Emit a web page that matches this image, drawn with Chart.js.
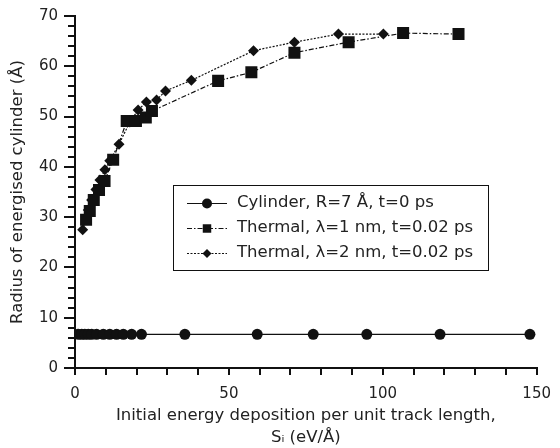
<!DOCTYPE html>
<html>
<head>
<meta charset="utf-8">
<title>Energised cylinder radius</title>
<script src="https://cdn.jsdelivr.net/npm/chart.js@4.4.1/dist/chart.umd.min.js"></script>
<style>
  html, body { margin: 0; padding: 0; background: #fff; }
  #wrap { width: 560px; height: 448px; }
</style>
</head>
<body>
<div id="wrap"><canvas id="chart" width="560" height="448"></canvas></div>
<script>
// Initial energy deposition S_i (eV/Å) vs radius (Å)
const cylinderX = [1.1, 2.2, 3.2, 4.3, 5.4, 7.0, 9.2, 11.3, 13.5, 15.7, 18.4, 21.6, 35.7, 59.2, 77.4, 94.8, 118.6, 147.8];
const cylinderY = [6.7, 6.7, 6.7, 6.7, 6.7, 6.7, 6.7, 6.7, 6.7, 6.7, 6.7, 6.7, 6.7, 6.7, 6.7, 6.7, 6.7, 6.7];

const thermal1X = [3.6, 4.8, 6.1, 7.8, 9.6, 12.4, 16.8, 19.8, 23.0, 25.0, 46.5, 57.3, 71.3, 88.9, 106.6, 124.6];
const thermal1Y = [29.5, 31.2, 33.4, 35.4, 37.2, 41.4, 49.1, 49.1, 49.8, 51.1, 57.1, 58.8, 62.7, 64.8, 66.6, 66.4];

const thermal2X = [2.5, 4.3, 5.4, 6.8, 8.1, 9.7, 11.3, 14.3, 17.8, 20.5, 23.2, 26.5, 29.4, 37.8, 58.0, 71.3, 85.6, 100.2];
const thermal2Y = [27.5, 31.4, 33.4, 35.5, 37.4, 39.4, 41.2, 44.5, 48.9, 51.3, 52.9, 53.3, 55.1, 57.2, 63.1, 64.8, 66.4, 66.4];

const seriesLabels = [
  "Cylinder, R=7 Å, t=0 ps",
  "Thermal, λ=1 nm, t=0.02 ps",
  "Thermal, λ=2 nm, t=0.02 ps"
];

const xTickLabels = [0, 50, 100, 150];
const yTickLabels = [0, 10, 20, 30, 40, 50, 60, 70];

const INK = "#111";
const FONT = "'DejaVu Sans', sans-serif";

function toPoints(xs, ys) {
  return xs.map((x, i) => ({ x: x, y: ys[i] }));
}

// legend marker sizes are a little smaller than the plotted ones
const legendStyles = [
  { dash: [], pointStyle: "circle", radius: 5 },
  { dash: [5, 2, 1.5, 2], pointStyle: "rect", radius: 6 },
  { dash: [2, 1.5], pointStyle: "rectRot", radius: 4.5 }
];

const boxLegend = {
  id: "boxLegend",
  afterDraw(chart) {
    const ctx = chart.ctx;
    const box = { x: 173.5, y: 185.5, w: 315, h: 85 };
    ctx.save();
    ctx.strokeStyle = INK;
    ctx.lineWidth = 1;
    ctx.fillStyle = "#fff";
    ctx.fillRect(box.x, box.y, box.w, box.h);
    ctx.strokeRect(box.x, box.y, box.w, box.h);

    seriesLabels.forEach((label, i) => {
      const y = 203 + i * 25;
      const st = legendStyles[i];
      ctx.setLineDash(st.dash);
      ctx.lineWidth = 1.2;
      ctx.strokeStyle = INK;
      ctx.beginPath();
      ctx.moveTo(187, y + 0.5);
      ctx.lineTo(227, y + 0.5);
      ctx.stroke();
      ctx.setLineDash([]);
      ctx.fillStyle = INK;
      Chart.helpers.drawPoint(ctx, { pointStyle: st.pointStyle, radius: st.radius, rotation: 0, borderWidth: 0 }, 207, y + 0.5);

      ctx.fillStyle = "#222";
      ctx.font = "16.5px " + FONT;
      ctx.textAlign = "left";
      ctx.textBaseline = "middle";
      ctx.fillText(label, 237, y);
    });
    ctx.restore();
  }
};

// tick marks: y every 2 (longer at labelled values), x every 10
const axisTicks = {
  id: "axisTicks",
  afterDraw(chart) {
    const { ctx, chartArea } = chart;
    const xs = chart.scales.x;
    const ys = chart.scales.y;
    ctx.save();
    ctx.strokeStyle = INK;
    ctx.lineWidth = 2;
    ctx.beginPath();
    for (let v = 0; v <= 70; v += 2) {
      const py = Math.round(ys.getPixelForValue(v));
      const len = v % 10 === 0 ? 11 : 7;
      ctx.moveTo(chartArea.left - len, py);
      ctx.lineTo(chartArea.left + 1, py);
    }
    for (let v = 0; v <= 150; v += 10) {
      const px = Math.round(xs.getPixelForValue(v));
      ctx.moveTo(px, chartArea.bottom - 1);
      ctx.lineTo(px, chartArea.bottom + 7);
    }
    ctx.stroke();
    ctx.restore();
  }
};

new Chart(document.getElementById("chart"), {
  type: "scatter",
  data: {
    datasets: [
      {
        label: seriesLabels[0],
        data: toPoints(cylinderX, cylinderY),
        showLine: true,
        borderColor: INK,
        borderWidth: 1.2,
        backgroundColor: INK,
        pointStyle: "circle",
        pointRadius: 5.5,
        pointBorderWidth: 0
      },
      {
        label: seriesLabels[1],
        data: toPoints(thermal1X, thermal1Y),
        showLine: true,
        borderColor: INK,
        borderWidth: 1.2,
        borderDash: [5, 2, 1.5, 2],
        backgroundColor: INK,
        pointStyle: "rect",
        pointRadius: 8.5,
        pointBorderWidth: 0
      },
      {
        label: seriesLabels[2],
        data: toPoints(thermal2X, thermal2Y),
        showLine: true,
        borderColor: INK,
        borderWidth: 1.2,
        borderDash: [2, 1.5],
        backgroundColor: INK,
        pointStyle: "rectRot",
        pointRadius: 5.5,
        pointBorderWidth: 0
      }
    ]
  },
  options: {
    responsive: false,
    animation: false,
    layout: { padding: { top: 16, right: 22, left: 0, bottom: 0 } },
    plugins: {
      legend: { display: false },
      tooltip: { enabled: false }
    },
    scales: {
      x: {
        type: "linear",
        min: 0,
        max: 150,
        afterBuildTicks(scale) {
          scale.ticks = xTickLabels.map(v => ({ value: v }));
        },
        afterFit(scale) { scale.height = 80; },
        grid: { display: true, drawOnChartArea: false, drawTicks: true, tickLength: 8, color: "rgba(0,0,0,0)" },
        border: { display: true, color: INK, width: 2 },
        ticks: { color: "#222", padding: 9, maxRotation: 0, font: { family: FONT, size: 15 } },
        title: {
          display: true,
          text: ["Initial energy deposition per unit track length,", "Sᵢ (eV/Å)"],
          color: "#222",
          font: { family: FONT, size: 16.5, lineHeight: "22.5px" },
          padding: { top: 0, bottom: -1 }
        }
      },
      y: {
        type: "linear",
        min: 0,
        max: 70,
        afterBuildTicks(scale) {
          scale.ticks = yTickLabels.map(v => ({ value: v }));
        },
        afterFit(scale) { scale.width = 75; },
        grid: { display: true, drawOnChartArea: false, drawTicks: true, tickLength: 12, color: "rgba(0,0,0,0)" },
        border: { display: true, color: INK, width: 2 },
        ticks: { color: "#222", padding: 5, font: { family: FONT, size: 15 } },
        title: {
          display: true,
          text: "Radius of energised cylinder (Å)",
          color: "#222",
          font: { family: FONT, size: 16.5 },
          padding: { top: 8, bottom: 0 }
        }
      }
    }
  },
  plugins: [axisTicks, boxLegend]
});
</script>
</body>
</html>
